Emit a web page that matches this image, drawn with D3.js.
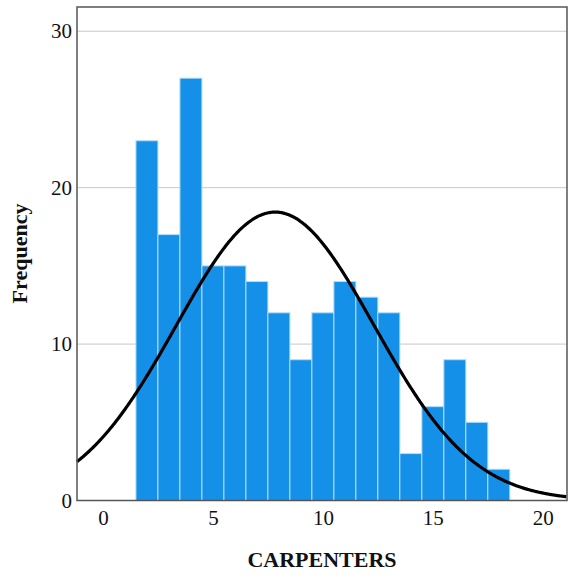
<!DOCTYPE html>
<html><head><meta charset="utf-8">
<script src="https://cdn.jsdelivr.net/npm/d3@7"></script>
<style>body{margin:0;background:#fff}svg{display:block}</style>
</head><body>
<script>
const binCenters = [2,3,4,5,6,7,8,9,10,11,12,13,14,15,16,17,18];
const frequencies = [23,17,27,15,15,14,12,9,12,14,13,12,3,6,9,5,2];
const xTicks = [0,5,10,15,20];
const yTicks = [0,10,20,30];
const fitMean = 7.83;
const fitSD = 4.5;
const binWidth = 1;

const W = 568, H = 579;
const plot = {left:77, top:7, right:567, bottom:500.5};
const svg = d3.select("body").append("svg").attr("width",W).attr("height",H);

const x = d3.scaleLinear().domain([-1.18, 21.1]).range([plot.left, plot.right]);
const y = d3.scaleLinear().domain([0, 31.55]).range([plot.bottom, plot.top]);

// gridlines
svg.append("g").selectAll("line").data(yTicks.filter(d=>d>0)).join("line")
  .attr("x1",plot.left).attr("x2",plot.right)
  .attr("y1",d=>y(d)).attr("y2",d=>y(d))
  .attr("stroke","#c8c8c8").attr("stroke-width",1);

// bars
svg.append("g").selectAll("rect").data(binCenters).join("rect")
  .attr("x",(d)=>x(d-binWidth/2))
  .attr("width",(d)=>x(d+binWidth/2)-x(d-binWidth/2))
  .attr("y",(d,i)=>y(frequencies[i]))
  .attr("height",(d,i)=>y(0)-y(frequencies[i]))
  .attr("fill","#1490e8").attr("stroke","#b5dcf7").attr("stroke-width",1);

// normal curve
const N = d3.sum(frequencies);
const xs = d3.range(-1.18, 21.1001, 0.05);
const curve = xs.map(v=>[v, N*binWidth/(fitSD*Math.sqrt(2*Math.PI))*Math.exp(-0.5*Math.pow((v-fitMean)/fitSD,2))]);
svg.append("path").datum(curve)
  .attr("d", d3.line().x(d=>x(d[0])).y(d=>y(d[1])).curve(d3.curveBasis))
  .attr("fill","none").attr("stroke","#000").attr("stroke-width",3.2);

// frame
svg.append("rect").attr("x",plot.left).attr("y",plot.top)
  .attr("width",plot.right-plot.left).attr("height",plot.bottom-plot.top)
  .attr("fill","none").attr("stroke","#555").attr("stroke-width",1.5);

// axes
const xAxis = d3.axisBottom(x).tickValues(xTicks).tickSize(0).tickPadding(10);
const gx = svg.append("g").attr("transform",`translate(0,${plot.bottom})`).call(xAxis);
gx.select(".domain").remove();
gx.selectAll("text").attr("font-family","'Liberation Serif', serif").attr("font-size",21).attr("fill","#111");

const yAxis = d3.axisLeft(y).tickValues(yTicks).tickSize(0).tickPadding(5);
const gy = svg.append("g").attr("transform",`translate(${plot.left},0)`).call(yAxis);
gy.select(".domain").remove();
gy.selectAll("text").attr("font-family","'Liberation Serif', serif").attr("font-size",21).attr("fill","#111");

svg.append("text").attr("x",322).attr("y",567).attr("text-anchor","middle")
  .attr("font-family","'Liberation Serif', serif").attr("font-weight","bold").attr("font-size",22)
  .attr("fill","#111").text("CARPENTERS");
svg.append("text").attr("transform","translate(27,253.5) rotate(-90)").attr("text-anchor","middle")
  .attr("font-family","'Liberation Serif', serif").attr("font-weight","bold").attr("font-size",22)
  .attr("fill","#111").text("Frequency");
</script>
</body></html>
